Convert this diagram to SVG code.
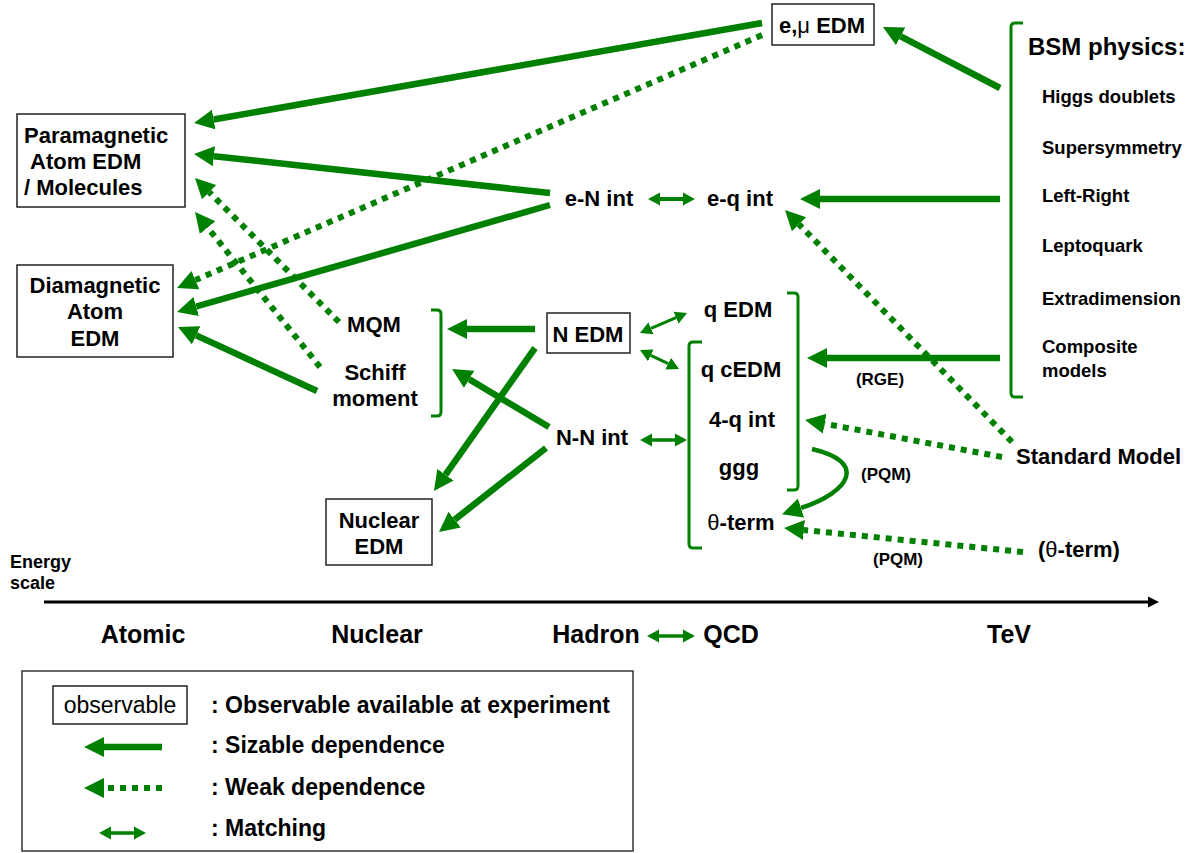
<svg xmlns="http://www.w3.org/2000/svg" width="1200" height="853" viewBox="0 0 1200 853">
<style>
.t{font-family:"Liberation Sans",Arial,sans-serif;font-weight:bold;fill:#000}
.n{font-size:22px}
.l{font-size:23px}
.m{text-anchor:middle}
.box{fill:#fff;stroke:#222;stroke-width:1.5}
.solid{stroke:#008000;stroke-width:6.5;fill:none;marker-end:url(#ah)}
.dot{stroke:#008000;stroke-width:6;stroke-dasharray:6 6;fill:none;marker-end:url(#ah)}
.dbl{stroke:#008000;stroke-width:3.5;fill:none;marker-start:url(#dh);marker-end:url(#dh)}
.br{stroke:#008000;stroke-width:3;fill:none}
.g{font-weight:normal}
</style>
<defs>
<marker id="ah" markerUnits="userSpaceOnUse" markerWidth="22" markerHeight="22" viewBox="0 -11 22 22" refX="0" refY="0" orient="auto"><path d="M0,-10 L20,0 L0,10 z" fill="#008000"/></marker>
<marker id="dh" markerUnits="userSpaceOnUse" markerWidth="14" markerHeight="14" viewBox="0 -7 14 14" refX="0" refY="0" orient="auto-start-reverse"><path d="M0,-6.5 L12,0 L0,6.5 z" fill="#008000"/></marker>
<marker id="ax" markerUnits="userSpaceOnUse" markerWidth="14" markerHeight="14" viewBox="0 -7 14 14" refX="0" refY="0" orient="auto"><path d="M0,-5.5 L11,0 L0,5.5 z" fill="#000"/></marker>
</defs>
<rect width="1200" height="853" fill="#fff"/>

<g id="connectors">
<path class="solid" d="M762,23 L213.7,119.5"/>
<path class="dot" d="M762,35 L195.4,280.1"/>
<path class="solid" d="M1000,88 L900.7,36.3"/>
<path class="solid" d="M550,193 L213.9,156.2"/>
<path class="solid" d="M550,205 L196.2,306.5"/>
<path class="solid" d="M1000,199 L820,199"/>
<path class="dot" d="M1012,442 L799,224.3"/>
<path class="solid" d="M1000,358 L827,358"/>
<path class="dot" d="M1002,457 L824.7,423.7"/>
<path class="dot" d="M1023,552 L803.9,530"/>
<path class="solid" style="stroke-width:4.5" d="M812,449 C868,462 850,492 801,508"/>
<path class="solid" d="M535,329 L467,329"/>
<path class="solid" d="M549,427 L469.2,379.3"/>
<path class="solid" d="M535,348 L445.5,474.7"/>
<path class="solid" d="M546,448 L454.7,519.6"/>
<path class="solid" d="M317,391 L196.2,335.4"/>
<path class="dot" d="M339,322 L209.1,192.1"/>
<path class="dot" d="M320,367 L207.6,227.6"/>
<path class="dbl" style="stroke-width:4" d="M660,199 L683,199"/>
<path class="dbl" style="stroke-width:3" d="M651,328.3 L676,317.7"/>
<path class="dbl" style="stroke-width:3" d="M650.8,355.3 L668.2,363.7"/>
<path class="dbl" d="M652,440 L675,440"/>
<path class="br" d="M431,310 L437,310 Q441,310 441,314 L441,412 Q441,416 437,416 L431,416"/>
<path class="br" d="M787,293 L794,293 Q798,293 798,297 L798,486 Q798,490 794,490 L787,490"/>
<path class="br" d="M702,342 L693,342 Q689,342 689,346 L689,544 Q689,548 693,548 L702,548"/>
<path class="br" d="M1023,23 L1015,23 Q1011,23 1011,27 L1011,393 Q1011,397 1015,397 L1023,397"/>
</g>

<g id="emu-edm"><rect class="box" x="772" y="4" width="102" height="41"/><text class="t n m" x="822" y="33">e,<tspan class="g">μ</tspan> EDM</text></g>
<g id="paramagnetic"><rect class="box" x="17" y="114" width="168" height="93"/>
<text class="t n" x="24" y="143">Paramagnetic</text><text class="t n" x="30" y="169">Atom EDM</text><text class="t n" x="24" y="195">/ Molecules</text></g>
<g id="diamagnetic"><rect class="box" x="17" y="265" width="156" height="92"/>
<text class="t n m" x="95" y="293">Diamagnetic</text><text class="t n m" x="95" y="319">Atom</text><text class="t n m" x="95" y="346">EDM</text></g>
<g id="mqm"><text class="t n m" x="374" y="332">MQM</text></g>
<g id="schiff"><text class="t n m" x="375" y="380">Schiff</text><text class="t n m" x="375" y="406">moment</text></g>
<g id="n-edm"><rect class="box" x="547" y="313" width="83" height="40"/><text class="t n m" x="588" y="342">N EDM</text></g>
<g id="nuclear-edm"><rect class="box" x="326" y="499" width="106" height="66"/>
<text class="t n m" x="379" y="528">Nuclear</text><text class="t n m" x="379" y="554">EDM</text></g>
<g id="en-int"><text class="t n m" x="599" y="206">e-N int</text></g>
<g id="eq-int"><text class="t n m" x="740" y="206">e-q int</text></g>
<g id="nn-int"><text class="t n m" x="592" y="445">N-N int</text></g>
<g id="q-edm"><text class="t n m" x="738" y="317">q EDM</text></g>
<g id="q-cedm"><text class="t n m" x="741" y="377">q cEDM</text></g>
<g id="4q-int"><text class="t n m" x="742" y="427">4-q int</text></g>
<g id="ggg"><text class="t n m" x="739" y="475">ggg</text></g>
<g id="theta-term"><text class="t n m" x="741" y="530"><tspan class="g">θ</tspan>-term</text></g>
<g id="bsm"><text class="t" x="1028" y="55" font-size="24">BSM physics:</text>
<text class="t" font-size="18.5" x="1042" y="103">Higgs doublets</text>
<text class="t" font-size="18.5" x="1042" y="154">Supersymmetry</text>
<text class="t" font-size="18.5" x="1042" y="202">Left-Right</text>
<text class="t" font-size="18.5" x="1042" y="252">Leptoquark</text>
<text class="t" font-size="18.5" x="1042" y="305">Extradimension</text>
<text class="t" font-size="18.5" x="1042" y="353">Composite</text>
<text class="t" font-size="18.5" x="1042" y="377">models</text></g>
<g id="standard-model"><text class="t n" x="1016" y="464">Standard Model</text></g>
<g id="theta-bsm"><text class="t n" x="1038" y="557">(<tspan class="g">θ</tspan>-term)</text></g>
<g id="labels">
<text class="t m" font-size="17" x="880" y="385">(RGE)</text>
<text class="t m" font-size="17" x="886" y="480">(PQM)</text>
<text class="t m" font-size="17" x="898" y="565">(PQM)</text>
</g>

<g id="axis">
<text class="t" font-size="18" x="10" y="568">Energy</text>
<text class="t" font-size="18" x="10" y="589">scale</text>
<path d="M44,602 L1148,602" stroke="#000" stroke-width="3" marker-end="url(#ax)"/>
<text class="t m" font-size="25" x="143" y="643">Atomic</text>
<text class="t m" font-size="25" x="377" y="643">Nuclear</text>
<text class="t m" font-size="25" x="596" y="643">Hadron</text>
<path class="dbl" d="M659,636 L683,636"/>
<text class="t m" font-size="25" x="731" y="643">QCD</text>
<text class="t m" font-size="25" x="1009" y="643">TeV</text>
</g>

<g id="legend">
<rect x="22" y="671" width="611" height="180" fill="#fff" stroke="#333" stroke-width="1.5"/>
<rect class="box" x="53" y="686" width="134" height="38"/>
<text class="t g m" font-size="23" x="120" y="713">observable</text>
<text class="t l" x="211" y="713">: Observable available at experiment</text>
<path class="solid" d="M162,747 L104,747"/>
<text class="t l" x="211" y="753">: Sizable dependence</text>
<path class="dot" d="M162,788 L104,788"/>
<text class="t l" x="211" y="795">: Weak dependence</text>
<path class="dbl" d="M111,833 L134,833"/>
<text class="t l" x="211" y="836">: Matching</text>
</g>
</svg>
